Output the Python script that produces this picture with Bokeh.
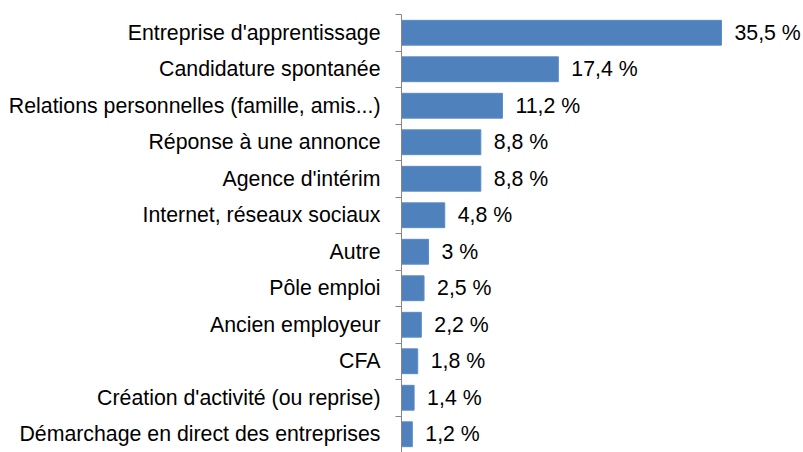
from bokeh.plotting import figure
from bokeh.models import ColumnDataSource, Range1d, FixedTicker
from bokeh.core.properties import value
from bokeh.embed import file_html
from bokeh.resources import INLINE

categories = [
    "Entreprise d'apprentissage",
    "Candidature spontanée",
    "Relations personnelles (famille, amis...)",
    "Réponse à une annonce",
    "Agence d'intérim",
    "Internet, réseaux sociaux",
    "Autre",
    "Pôle emploi",
    "Ancien employeur",
    "CFA",
    "Création d'activité (ou reprise)",
    "Démarchage en direct des entreprises",
]
values = [35.5, 17.4, 11.2, 8.8, 8.8, 4.8, 3, 2.5, 2.2, 1.8, 1.4, 1.2]

n = len(categories)
pos = [i + 0.5 for i in range(n)]
labels = [f"{v:g}".replace(".", ",") + " %" for v in values]

src = ColumnDataSource(dict(cat=categories, val=values, y=pos, lab=labels))

FONT = "Liberation Sans"
FS = "21.3px"

p = figure(width=803, height=452, output_backend="svg", toolbar_location=None,
           x_range=Range1d(0, 44.6), y_range=Range1d(n, 0),
           min_border_left=401, min_border_right=0, min_border_top=14,
           min_border_bottom=0)
p.outline_line_color = None
p.grid.visible = False
p.xaxis.visible = False
p.background_fill_color = "white"
p.border_fill_color = "white"

p.hbar(y="y", right="val", left=0, height=0.68, source=src,
       fill_color="#4F81BD", line_color="#5B8CC6", line_width=1)

p.text(x="val", y="y", text="lab", source=src, x_offset=13,
       text_baseline="middle", text_align="left",
       text_font=value(FONT), text_font_size=FS, text_color="#000000")

ya = p.yaxis[0]
ya.ticker = FixedTicker(ticks=pos, minor_ticks=list(range(n + 1)))
ya.major_label_overrides = {p_: c for p_, c in zip(pos, categories)}
ya.major_tick_out = 0
ya.major_tick_in = 0
ya.minor_tick_out = 6
ya.minor_tick_in = 0
ya.minor_tick_line_color = "#868686"
ya.axis_line_color = "#868686"
ya.major_label_text_font = FONT
ya.major_label_text_font_size = FS
ya.major_label_text_color = "#000000"
ya.major_label_standoff = 15

open("out.html", "w").write(file_html(p, INLINE))
